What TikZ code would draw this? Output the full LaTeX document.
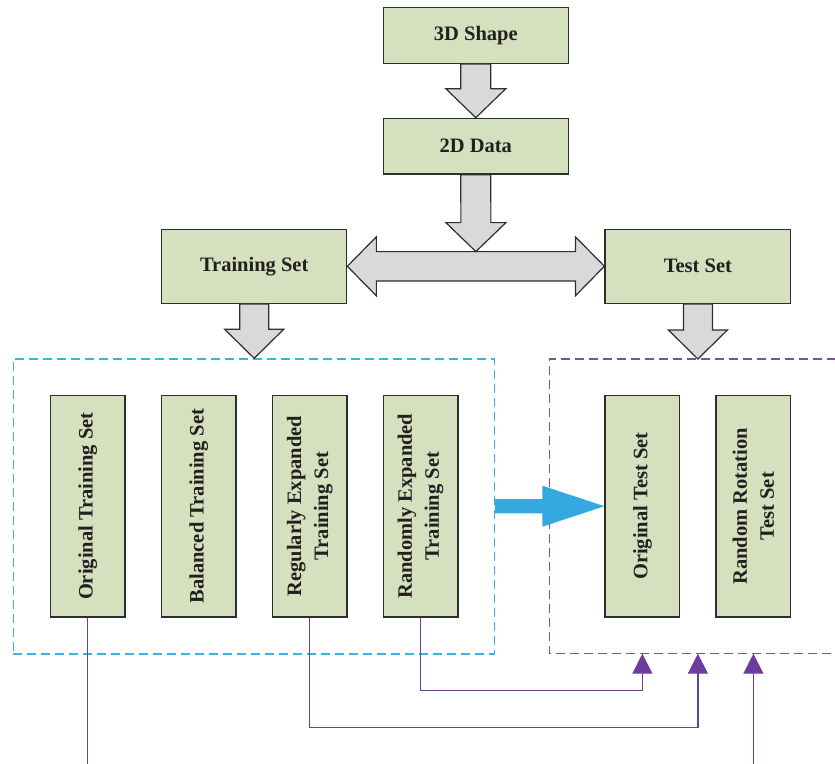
\documentclass[tikz,border=0pt]{standalone}
\usepackage{fontspec}
\setmainfont{Liberation Serif}
\usetikzlibrary{calc,arrows.meta}
\definecolor{boxgreen}{HTML}{D5E0BE}
\definecolor{arrowgray}{HTML}{D8D9DB}
\definecolor{edgegray}{HTML}{2E2E2E}
\definecolor{bluedash}{HTML}{3FB0E4}
\definecolor{purpledash}{HTML}{7E4FAA}
\definecolor{plinkc}{HTML}{6E3C9C}
\definecolor{bluearrow}{HTML}{33A9DF}
\definecolor{txt}{HTML}{231F20}
\begin{document}
\begin{tikzpicture}[x=1pt,y=-1pt,
  box/.style={draw=edgegray, fill=boxgreen, line width=1.3pt, inner sep=0pt,
    text=txt, font=\fontsize{20.5}{27}\selectfont\bfseries, align=center},
  hbox/.style={box, minimum width=185pt, minimum height=#1},
  vbox/.style={box, rotate=90, minimum width=221.7pt, minimum height=74.7pt},
  garrow/.style={draw=edgegray, fill=arrowgray, line width=1.2pt, line join=miter},
  dashbox/.style={line width=1.5pt, dash pattern=on 9pt off 5pt},
  plink/.style={draw=plinkc, line width=1.2pt, -{Triangle[width=20pt,length=20pt,fill=plinkc]}},
  plain/.style={draw=plinkc, line width=1.2pt}]
\useasboundingbox (0,0) rectangle (835,763);

% dashed group frames
\node[draw=bluedash, dashbox, minimum width=481pt, minimum height=294.7pt, inner sep=0pt] (bluebox) at (253.8,506.4) {};
\coordinate (pTL) at (549.3,359);
\coordinate (pBL) at (549.3,653.7);
\coordinate (pTR) at (836,359);
\coordinate (pBR) at (836,653.7);
\draw[draw=purpledash, dashbox] (pTR) -- (pTL) -- (pBL) -- (pBR);

% top boxes
\node[hbox=55.6pt] (s3d) at (475.8,35.5) {3D Shape};
\node[hbox=55.7pt] (s2d) at (475.8,146.2) {2D Data};
\node[hbox=74pt] (tr) at (254.2,266.3) {Training Set};
\node[hbox=74pt, minimum width=185.7pt] (ts) at (697.9,266.3) {Test Set};

% inner boxes (rotated: west = bottom, north = left)
\node[vbox] (otr) at (87.7,506.2) {Original Training Set};
\node[vbox] (bal) at (198.7,506.2) {Balanced Training Set};
\node[vbox] (ret) at (309.7,506.2) {Regularly Expanded\\Training Set};
\node[vbox] (rnd) at (420.5,506.2) {Randomly Expanded\\Training Set};
\node[vbox] (ots) at (642.4,506.2) {Original Test Set};
\node[vbox] (rrt) at (753.4,506.2) {Random Rotation\\Test Set};

% gray block arrows
\draw[garrow] ($(s3d.south)+(-15,0)$) -- ($(s2d.north)+(-15,-29)$) -- ($(s2d.north)+(-30,-29)$)
  -- (s2d.north) -- ($(s2d.north)+(30,-29)$) -- ($(s2d.north)+(15,-29)$) -- ($(s3d.south)+(15,0)$) -- cycle;

\draw[garrow] (tr.east) -- ($(tr.east)+(29,-29.5)$) -- ($(tr.east)+(29,-14.7)$)
  -- ($(ts.west)+(-29,-14.7)$) -- ($(ts.west)+(-29,-29.5)$) -- (ts.west)
  -- ($(ts.west)+(-29,29.5)$) -- ($(ts.west)+(-29,14.7)$)
  -- ($(tr.east)+(29,14.7)$) -- ($(tr.east)+(29,29.5)$) -- cycle;

\coordinate (split) at ($(tr.east)!0.5!(ts.west)+(0,-14.7)$);
\draw[garrow] ($(s2d.south)+(-15,0)$) -- ($(split)+(-15,-29)$) -- ($(split)+(-30,-29)$)
  -- (split) -- ($(split)+(30,-29)$) -- ($(split)+(15,-29)$) -- ($(s2d.south)+(15,0)$) -- cycle;

\coordinate (trtip) at (tr.south |- bluebox.north);
\draw[garrow] ($(tr.south)+(-14.5,0)$) -- ($(trtip)+(-14.5,-29)$) -- ($(trtip)+(-29.5,-29)$)
  -- (trtip) -- ($(trtip)+(29.5,-29)$) -- ($(trtip)+(14.5,-29)$) -- ($(tr.south)+(14.5,0)$) -- cycle;

\coordinate (tstip) at (ts.south |- pTL);
\draw[garrow] ($(ts.south)+(-14.5,0)$) -- ($(tstip)+(-14.5,-29)$) -- ($(tstip)+(-29.5,-29)$)
  -- (tstip) -- ($(tstip)+(29.5,-29)$) -- ($(tstip)+(14.5,-29)$) -- ($(ts.south)+(14.5,0)$) -- cycle;

% blue arrow
\coordinate (bstart) at (bluebox.east |- ots.north);
\fill[bluearrow] ($(bstart)+(0,-7.2)$) -- ($(ots.north)+(-62,-7.2)$) -- ($(ots.north)+(-62,-20.5)$)
  -- (ots.north) -- ($(ots.north)+(-62,20.5)$) -- ($(ots.north)+(-62,7.2)$) -- ($(bstart)+(0,7.2)$) -- cycle;

% purple links
\coordinate (h1) at (0,690.7);
\coordinate (h2) at (0,727.7);
\coordinate (bot) at (0,766);
\coordinate (mid) at ($(ots.west)!0.5!(rrt.west)$);
\draw[plain] (otr.west) -- (otr.west |- bot);
\draw[plink] (rnd.west) -- (rnd.west |- h1) -- (ots.west |- h1) -- (ots.west |- pBL);
\draw[plink] (ret.west) -- (ret.west |- h2) -- (mid |- h2) -- (mid |- pBL);
\draw[plink] (rrt.west |- bot) -- (rrt.west |- pBL);
\end{tikzpicture}
\end{document}
